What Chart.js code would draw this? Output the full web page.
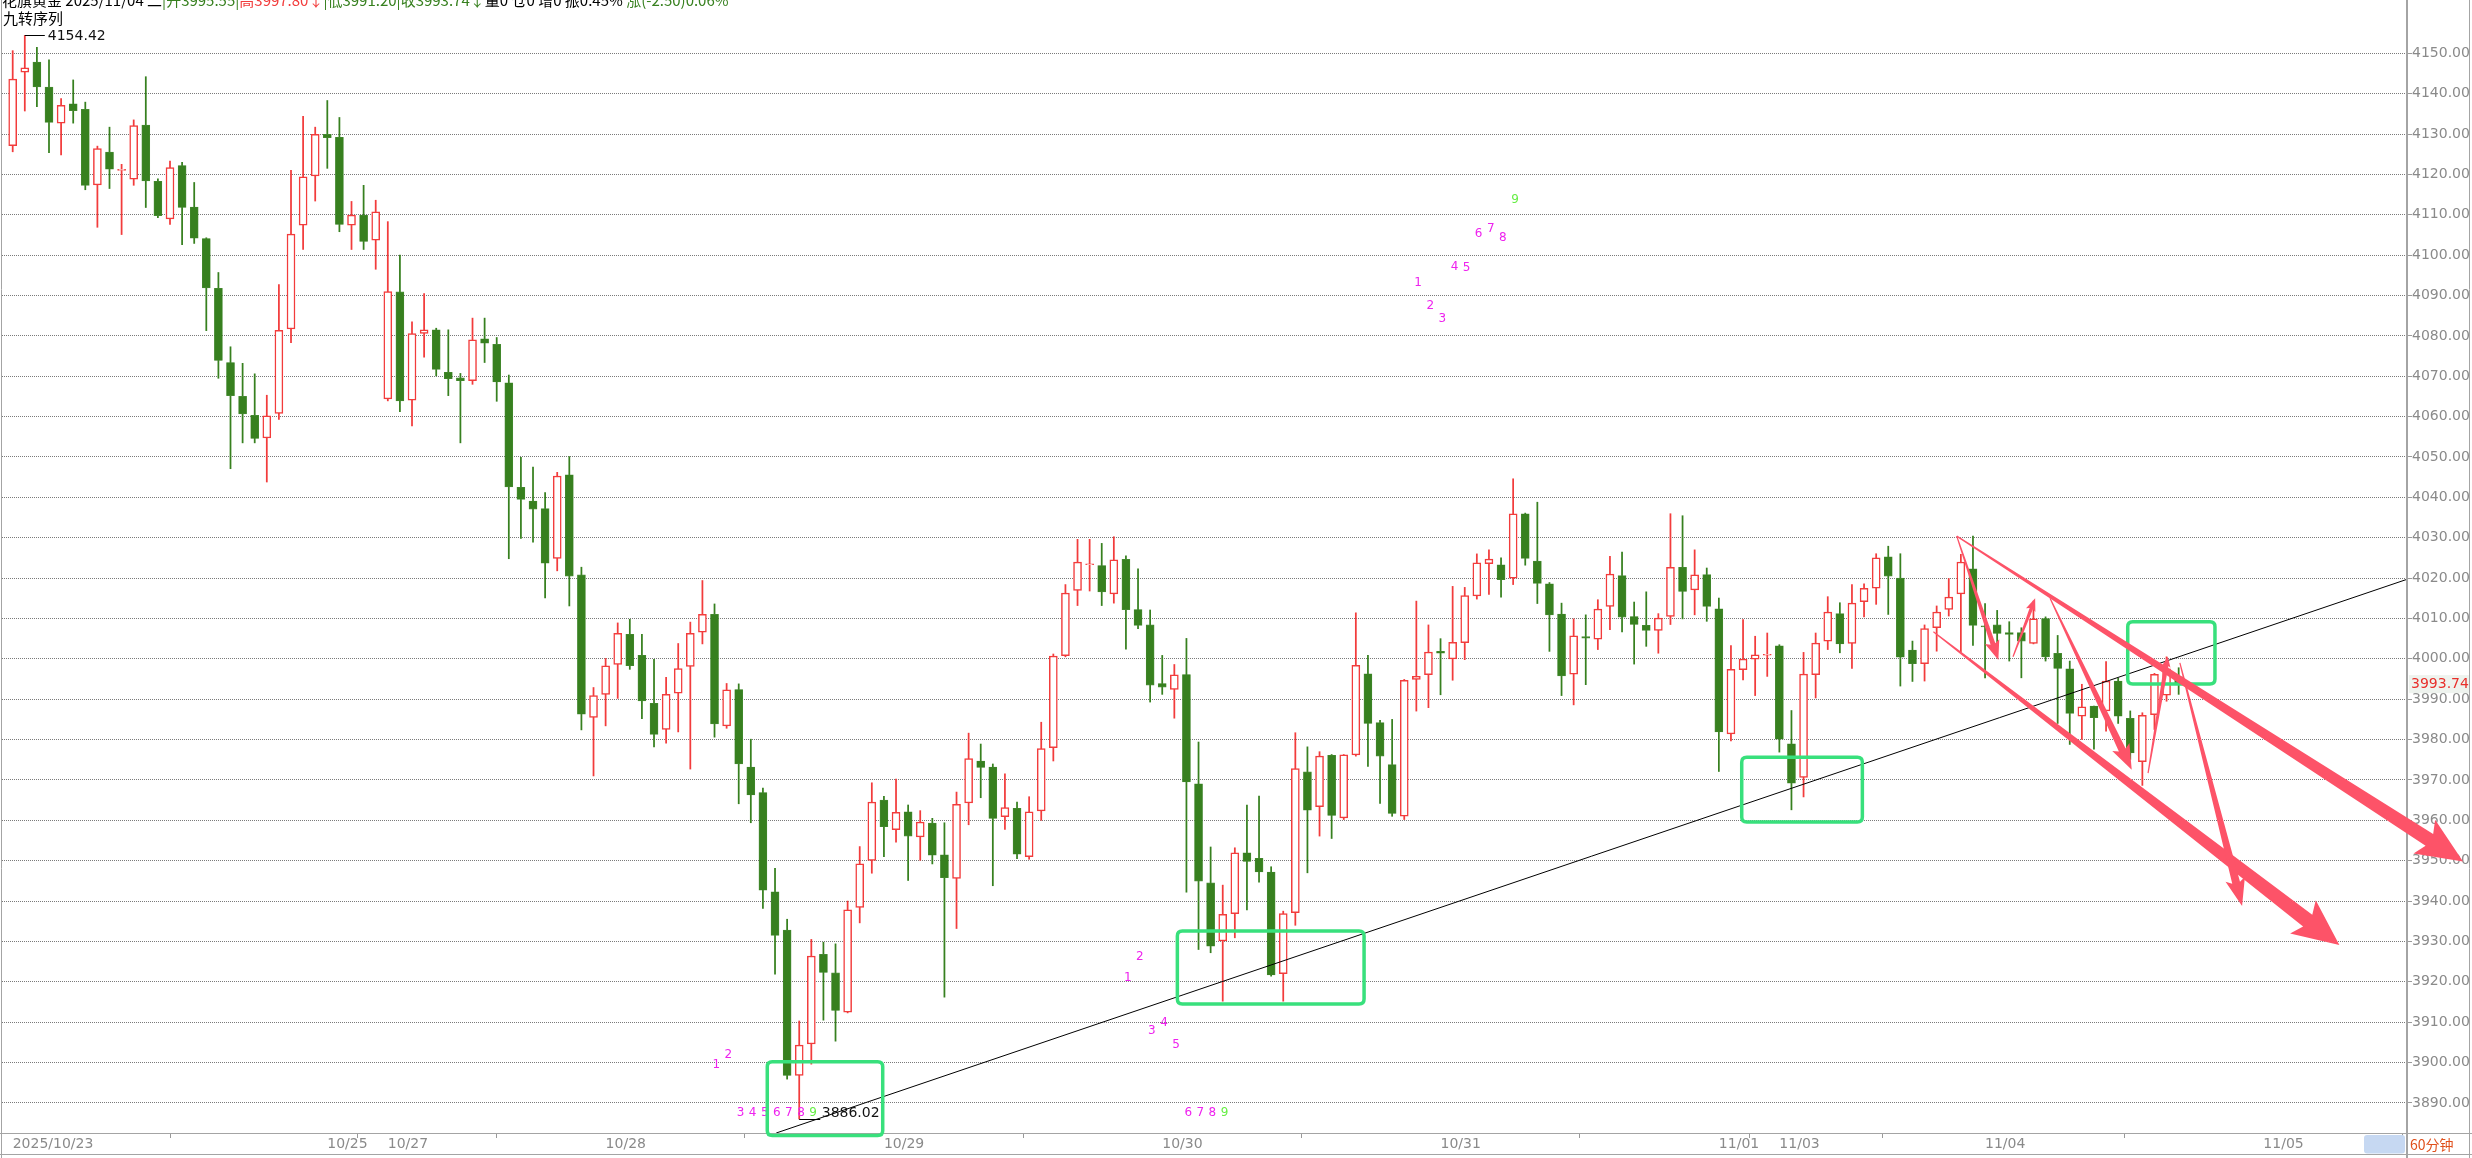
<!DOCTYPE html>
<html><head><meta charset="utf-8">
<style>html,body{margin:0;padding:0;background:#fff;overflow:hidden}canvas{display:block}</style>
<script src="https://cdn.jsdelivr.net/npm/chart.js@4/dist/chart.umd.min.js"></script>
</head><body>
<canvas id="c" width="2472" height="1158"></canvas>
<script>
const openP = [4127.1,4145.3,4147.8,4141.6,4132.7,4137.5,4136.1,4117.4,4125.5,4121.0,
4118.8,4132.2,4118.3,4109.0,4122.2,4111.9,4104.1,4091.8,4073.4,4065.0,
4060.3,4054.7,4060.8,4081.7,4107.4,4119.6,4129.9,4129.2,4107.4,4109.9,
4103.7,4064.4,4090.9,4064.1,4080.6,4081.5,4071.0,4069.6,4068.9,4079.3,
4077.9,4068.4,4042.5,4039.1,4037.2,4024.9,4045.6,4020.8,3985.5,3991.2,
3998.6,4006.1,4000.9,3989.0,3982.5,3991.5,3998.1,4006.6,4011.0,3983.4,
3992.4,3973.2,3966.9,3942.3,3932.8,3896.8,3904.6,3926.8,3922.2,3912.5,
3938.4,3950.1,3965.0,3957.7,3962.1,3955.9,3959.3,3951.45,3945.6,3964.3,
3974.7,3973.2,3960.9,3963.0,3951.0,3962.35,3978.0,4000.8,4016.95,4023.3,
4023.1,4016.1,4024.63,4012.2,4008.4,3993.9,3992.4,3996.1,3969.05,3944.5,
3930.1,3936.9,3951.97,3950.6,3947.2,3922.0,3937.1,3972.0,3963.4,3976.1,
3960.6,3976.2,3996.3,3984.2,3973.8,3961.05,3994.9,3996.1,4001.85,4000.0,
4004.0,4015.6,4023.6,4023.3,4020.0,4035.95,4024.2,4018.6,4011.1,3996.2,
4005.5,4004.9,4013.0,4020.6,4010.5,4008.3,4007.05,4010.5,4022.7,4017.1,
4020.85,4012.4,3981.4,3997.3,3999.95,4000.9,4003.25,3978.97,3970.6,3996.1,
4004.4,4011.2,4003.8,4014.15,4017.5,4025.3,4020.0,4002.2,3998.8,4007.7,
4012.25,4016.1,4022.3,4008.1,4008.4,4006.5,4006.5,4003.8,4010.0,4001.35,
3997.55,3985.8,3988.3,3987.1,3994.5,3985.25,3974.5,3986.2,3991.0,3995.55];

const highP = [4150.65,4154.42,4151.5,4148.4,4138.8,4143.4,4137.9,4127.0,4131.7,4122.5,
4133.5,4144.2,4118.9,4123.3,4123.0,4118.0,4104.3,4095.7,4077.3,4073.2,
4070.6,4065.3,4092.7,4121.0,4134.4,4131.7,4138.3,4134.1,4113.3,4117.3,
4113.6,4108.3,4100.0,4083.5,4090.5,4081.9,4081.5,4070.7,4084.4,4084.4,
4079.6,4070.3,4049.9,4047.5,4041.2,4046.2,4050.1,4022.7,3992.9,4000.1,
4008.9,4009.8,4006.1,3999.9,3995.4,4003.8,4009.1,4019.4,4013.6,3993.9,
3993.8,3980.1,3968.0,3948.1,3935.5,3910.3,3930.5,3929.8,3929.4,3940.0,
3953.5,3969.3,3965.95,3970.2,3963.8,3962.4,3960.5,3959.4,3967.0,3981.6,
3978.9,3973.96,3971.5,3964.5,3965.85,3984.3,4001.2,4018.4,4029.6,4029.6,
4028.6,4030.25,4025.5,4022.3,4012.1,4000.85,3998.6,4005.06,3979.4,3953.4,
3943.95,3953.2,3963.8,3966.0,3948.5,3937.5,3981.7,3978.2,3977.0,3976.3,
3976.3,4011.4,4000.85,3984.8,3985.0,3994.9,4014.3,4008.4,4005.0,4017.95,
4017.7,4026.0,4027.0,4025.0,4044.6,4036.1,4038.8,4018.9,4013.8,4009.9,
4010.9,4014.65,4025.4,4026.45,4014.07,4016.6,4011.2,4035.95,4035.45,4027.0,
4022.5,4015.06,4003.3,4009.7,4005.6,4006.4,4003.5,3987.2,4001.6,4006.4,
4015.4,4013.9,4018.4,4018.6,4026.04,4027.9,4026.04,4004.4,4008.4,4013.1,
4019.9,4025.9,4030.4,4013.7,4012.0,4009.2,4007.7,4014.3,4010.4,4005.8,
3999.45,3993.7,3988.3,3999.3,3995.2,3987.1,3986.65,3996.4,4000.5,3997.80];

const lowP = [4125.6,4135.7,4136.8,4125.4,4124.8,4132.7,4116.2,4106.9,4116.5,4105.1,
4117.3,4111.8,4109.3,4107.6,4102.6,4102.9,4081.3,4069.5,4047.1,4053.5,
4053.5,4043.8,4059.3,4078.3,4101.4,4113.4,4121.5,4105.8,4101.4,4101.4,
4096.5,4063.9,4061.2,4057.7,4074.7,4070.1,4065.2,4053.5,4068.0,4073.4,
4063.8,4024.8,4029.8,4028.9,4015.1,4021.8,4013.1,3982.4,3971.0,3983.4,
3990.2,3997.4,3985.2,3978.2,3979.1,3981.9,3972.7,4003.7,3980.6,3982.8,
3964.1,3959.4,3938.2,3921.9,3895.9,3886.02,3899.6,3910.5,3905.3,3912.3,
3934.6,3946.9,3951.0,3954.6,3945.1,3950.1,3949.2,3916.2,3933.2,3958.9,
3965.6,3943.8,3957.75,3950.5,3950.35,3960.0,3974.7,4000.5,4013.2,4016.8,
4013.2,4013.8,4002.4,4007.45,3989.3,3991.2,3985.3,3942.2,3928.0,3927.2,
3915.2,3930.9,3937.8,3944.7,3921.4,3915.2,3934.0,3947.0,3956.1,3955.5,
3960.2,3975.9,3973.35,3964.2,3961.0,3960.2,3987.06,3987.9,3991.1,3994.7,
3999.8,4014.8,4015.97,4015.3,4018.4,4023.2,4013.7,4001.85,3990.9,3988.6,
3993.6,4002.3,4007.2,4006.7,3998.7,4003.1,4001.4,4008.5,4009.9,4010.9,
4009.3,3972.1,3979.7,3994.8,3990.9,3995.65,3976.9,3962.6,3965.8,3990.3,
4002.3,4001.5,3997.6,4010.4,4013.5,4011.0,3993.26,3994.4,3994.5,4001.9,
4010.6,4001.7,4003.3,3995.3,4002.8,3999.45,3995.3,4003.7,3999.45,3984.0,
3978.8,3980.05,3977.6,3982.1,3984.0,3975.1,3968.65,3982.5,3989.5,3991.20];

const closeP = [4143.6,4146.4,4141.7,4132.9,4137.1,4135.8,4117.3,4126.4,4121.3,4121.1,
4132.1,4118.4,4109.8,4121.7,4111.8,4104.2,4091.9,4073.9,4065.2,4060.7,
4054.6,4060.2,4081.4,4105.2,4119.4,4129.9,4129.1,4107.6,4109.9,4103.4,
4110.7,4091.0,4063.9,4080.6,4081.5,4071.7,4069.4,4068.9,4079.0,4078.2,
4068.6,4042.6,4039.5,4037.1,4023.7,4045.3,4020.5,3986.3,3990.9,3998.3,
4006.3,3998.3,3989.6,3981.3,3991.2,3997.6,4006.3,4011.0,3983.9,3992.3,
3974.0,3966.3,3942.7,3931.5,3896.8,3904.3,3926.4,3922.3,3912.9,3937.8,
3949.2,3964.5,3958.4,3962.0,3956.1,3959.55,3951.35,3945.8,3963.96,3975.3,
3973.1,3960.45,3963.15,3951.6,3962.1,3977.8,4000.7,4016.3,4023.97,4023.5,
4016.6,4024.5,4012.2,4008.3,3993.5,3993.0,3996.06,3969.5,3944.95,3928.8,
3936.7,3951.97,3949.8,3947.2,3921.7,3936.9,3972.8,3962.5,3975.9,3961.2,
3976.2,3998.4,3984.0,3975.9,3961.7,3994.7,3995.7,4001.7,4001.4,4004.1,
4015.7,4023.8,4024.7,4019.6,4035.9,4024.9,4018.7,4010.9,3995.8,4005.7,
4005.15,4012.3,4021.0,4010.35,4008.5,4007.05,4010.1,4022.7,4016.7,4020.8,
4013.0,3981.9,3997.4,3999.95,4001.0,4001.0,3980.1,3969.2,3996.2,4003.9,
4011.6,4003.7,4013.8,4017.45,4025.05,4020.5,4000.4,3998.8,4007.5,4011.6,
4015.3,4024.0,4008.3,4007.9,4006.3,4006.06,4004.4,4009.9,4000.5,3997.6,
3986.5,3988.1,3985.4,3994.5,3985.8,3976.7,3986.0,3996.15,3997.5,3993.74];

const xTickIdx = [0,26,31,49,72,95,118,141,146,163,186];
const xTickLabels = ['2025/10/23','10/25','10/27','10/28','10/29','10/30','10/31','11/01','11/03','11/04','11/05'];
const yTicks = [3890,3900,3910,3920,3930,3940,3950,3960,3970,3980,3990,4000,4010,4020,4030,4040,4050,4060,4070,4080,4090,4100,4110,4120,4130,4140,4150];

const tdIdx = [58,59,60,61,62,63,64,65,66, 92,93,94,95,96,97,98,99,100, 116,117,118,119,120,121,122,123,124];
const tdPrice = [3899.5,3901.8,3887.6,3887.6,3887.6,3887.6,3887.6,3887.6,3887.6,
 3920.9,3926.2,3907.8,3909.8,3904.3,3887.6,3887.6,3887.6,3887.6,
 4093.2,4087.4,4084.1,4097.0,4096.9,4105.2,4106.4,4104.3,4113.7];
const tdText = ['1','2','3','4','5','6','7','8','9','1','2','3','4','5','6','7','8','9','1','2','3','4','5','6','7','8','9'];

const trendX = [63.1, 197.87];
const trendY = [3882.55, 4019.7];

// green boxes: [idxLeft, idxRight, priceTop, priceBottom]
const boxes = [[62.36,71.90,3900.2,3881.9],[96.25,111.68,3932.6,3914.5],[142.89,152.86,3975.6,3959.6],[174.79,182.0,4009.2,3993.8]];
// arrows: [idxTail, priceTail, idxTip, priceTip, shaftWidth, headWidth, headLength]
const arrows = [
 [160.66,4030.4,202.5,3949.8,14,40,40],
 [158.73,4006.7,192.28,3929.1,15,42,40],
 [160.66,4030.4,164.1,3999.7,5,15,17],
 [165.31,4000.5,167.14,4015.0,3.5,10,11],
 [168.37,4015.0,175.12,3972.5,7.5,19,22],
 [176.47,3971.7,178.1,4000.5,4.5,9,9],
 [179.1,3999.0,184.24,3938.8,8,20,24]
];
const lastPrice = 3993.74;

const RED = '#f23c3c', GREEN = '#37801f', ARROW = 'rgb(253,83,104)', BOXC = '#38e07c';
const idx = openP.map((_, i) => i);
const isUp = i => closeP[i] >= openP[i];

function arrowPath(ctx, x0, y0, x1, y1, w1, hw, hl) {
  const dx = x1 - x0, dy = y1 - y0, L = Math.hypot(dx, dy);
  const ux = dx / L, uy = dy / L, nx = -uy, ny = ux;
  const bx = x1 - ux * hl, by = y1 - uy * hl;
  const cx = x1 - ux * hl * 1.15, cy = y1 - uy * hl * 1.15;
  ctx.beginPath();
  ctx.moveTo(x0 + nx * 0.6, y0 + ny * 0.6);
  ctx.lineTo(bx + nx * w1 / 2, by + ny * w1 / 2);
  ctx.lineTo(cx + nx * hw / 2, cy + ny * hw / 2);
  ctx.lineTo(x1, y1);
  ctx.lineTo(cx - nx * hw / 2, cy - ny * hw / 2);
  ctx.lineTo(bx - nx * w1 / 2, by - ny * w1 / 2);
  ctx.lineTo(x0 - nx * 0.6, y0 - ny * 0.6);
  ctx.closePath();
  ctx.fill();
}
function roundRect(ctx, x, y, w, h, r) {
  ctx.beginPath();
  ctx.moveTo(x + r, y); ctx.lineTo(x + w - r, y); ctx.quadraticCurveTo(x + w, y, x + w, y + r);
  ctx.lineTo(x + w, y + h - r); ctx.quadraticCurveTo(x + w, y + h, x + w - r, y + h);
  ctx.lineTo(x + r, y + h); ctx.quadraticCurveTo(x, y + h, x, y + h - r);
  ctx.lineTo(x, y + r); ctx.quadraticCurveTo(x, y, x + r, y); ctx.closePath();
}

const extras = {
  id: 'extras',
  beforeDraw(chart) {
    const c = chart.ctx; c.save(); c.fillStyle = '#fff'; c.fillRect(0, 0, chart.width, chart.height); c.restore();
  },
  afterDraw(chart) {
    const c = chart.ctx, xs = chart.scales.x, ys = chart.scales.y;
    const X = v => xs.getPixelForValue(v), Y = v => ys.getPixelForValue(v);
    c.save();
    // frame lines
    c.strokeStyle = '#a4a4a4';
    c.lineWidth = 1;
    c.beginPath();
    c.moveTo(0, 1133.5); c.lineTo(2472, 1133.5);
    c.moveTo(0, 1154.5); c.lineTo(2472, 1154.5);
    c.moveTo(1.5, 0); c.lineTo(1.5, 1158);
    c.moveTo(2469.5, 0); c.lineTo(2469.5, 1158);
    c.stroke();
    c.lineWidth = 2;
    c.beginPath(); c.moveTo(2407, 0); c.lineTo(2407, 1158); c.stroke();
    // bottom right
    c.fillStyle = '#c6d8f2';
    roundRect(c, 2364, 1135, 41, 18.5, 3); c.fill();
    c.fillStyle = '#e0501c';
    c.font = '14px "Noto Sans CJK SC"';
    c.textBaseline = 'middle'; c.textAlign = 'left';
    c.fillText('60分钟', 2410, 1144.5);
    // last price label
    const yl = Y(lastPrice);
    c.fillStyle = '#eef3ee';
    c.fillRect(2409, yl - 9, 60, 18);
    c.fillStyle = '#e8302c';
    c.font = '14px "DejaVu Sans"';
    c.fillText(lastPrice.toFixed(2), 2411, yl + 0.5);
    // header
    c.font = '15px "Noto Sans CJK SC"';
    c.textBaseline = 'alphabetic';
    const segs = [['花旗黄金 2025/11/04 二', '#000'], ['|开3995.55|', GREEN], ['高3997.80↓', RED], ['|低3991.20|', GREEN], ['收3993.74↓', GREEN], ['量0 仓0 增0 振0.45% ', '#000'], ['涨(-2.50)0.06%', GREEN]];
    let hx = 2;
    segs.forEach(([t, col]) => { c.fillStyle = col; c.fillText(t, hx, 6); hx += c.measureText(t).width; });
    c.fillStyle = '#000';
    c.fillText('九转序列', 3, 24);
    // hi / lo labels
    const hi = Math.max(...highP), hiI = highP.indexOf(hi);
    const lo = Math.min(...lowP), loI = lowP.indexOf(lo);
    c.strokeStyle = '#000'; c.lineWidth = 1;
    c.beginPath(); c.moveTo(X(hiI), Math.round(Y(hi)) + 0.5); c.lineTo(X(hiI) + 20, Math.round(Y(hi)) + 0.5); c.stroke();
    c.beginPath(); c.moveTo(X(loI), Math.round(Y(lo)) + 0.5); c.lineTo(X(loI) + 21, Math.round(Y(lo)) + 0.5); c.stroke();
    c.fillStyle = '#111'; c.font = '14px "DejaVu Sans"';
    c.textBaseline = 'middle'; c.fillText(hi.toFixed(2), X(hiI) + 23, Y(hi) + 0.5);
    c.textBaseline = 'alphabetic'; c.fillText(lo.toFixed(2), X(loI) + 22.5, Y(lo) - 1.5);
    // TD numbers
    c.font = '12px "DejaVu Sans"'; c.textAlign = 'center'; c.textBaseline = 'middle';
    tdIdx.forEach((ix, k) => {
      c.fillStyle = tdText[k] === '9' ? '#66ee44' : '#ee22ee';
      c.fillText(tdText[k], X(ix) + 1.8, Y(tdPrice[k]));
    });
    // boxes
    c.strokeStyle = BOXC; c.lineWidth = 3.5;
    boxes.forEach(([a, b, p, q]) => { const x0 = X(a), x1 = X(b), y0 = Y(p), y1 = Y(q); roundRect(c, x0, y0, x1 - x0, y1 - y0, 5); c.stroke(); });
    // arrows
    c.fillStyle = ARROW;
    arrows.forEach(([a, p, b, q, w1, hw, hl]) => arrowPath(c, X(a), Y(p), X(b), Y(q), w1, hw, hl));
    c.restore();
  }
};

const zeroPad = s => { s.paddingTop = 0; s.paddingBottom = 0; s.paddingLeft = 0; s.paddingRight = 0; };

new Chart(document.getElementById('c'), {
  data: {
    datasets: [
      { type: 'line', label: 'trend', order: 0, data: trendX.map((x, k) => ({ x, y: trendY[k] })),
        borderColor: '#000', borderWidth: 1, pointRadius: 0, fill: false, tension: 0 },
      { type: 'bar', label: 'body', order: 1, grouped: false, barThickness: 8, minBarLength: 1, borderSkipped: false,
        data: idx.map(i => ({ x: i, y: [openP[i], closeP[i]] })),
        backgroundColor: ctx => isUp(ctx.dataIndex) ? '#ffffff' : GREEN,
        borderColor: ctx => isUp(ctx.dataIndex) ? RED : '#4a8c36',
        borderWidth: ctx => isUp(ctx.dataIndex) ? 1.5 : 0.6 },
      { type: 'bar', label: 'wick', order: 2, grouped: false, barThickness: 1.1, borderWidth: 0,
        data: idx.map(i => ({ x: i, y: [lowP[i], highP[i]] })),
        backgroundColor: ctx => isUp(ctx.dataIndex) ? RED : GREEN }
    ]
  },
  options: {
    responsive: false, animation: false, events: [],
    layout: { padding: { left: 2, top: 0, right: 0, bottom: 0 } },
    plugins: { legend: { display: false }, tooltip: { enabled: false } },
    scales: {
      x: { type: 'linear', min: -0.884, max: 197.87, offset: false,
        afterBuildTicks: s => { s.ticks = xTickIdx.map(v => ({ value: v })); },
        afterFit: s => { s.height = 25; zeroPad(s); },
        ticks: { autoSkip: false, maxRotation: 0, minRotation: 0, align: 'start', padding: -2, color: '#8a8a8a',
          font: { family: 'DejaVu Sans', size: 14 }, callback: (v, i) => xTickLabels[i] },
        grid: { drawOnChartArea: false, drawTicks: true, tickLength: 5, tickColor: '#999', color: '#999' },
        border: { display: false }
      },
      y: { type: 'linear', position: 'right', min: 3882.55, max: 4163.2,
        afterBuildTicks: s => { s.ticks = yTicks.map(v => ({ value: v })); },
        afterFit: s => { s.width = 65; zeroPad(s); },
        ticks: { padding: 0, color: '#8a8a8a', font: { family: 'DejaVu Sans', size: 14 }, callback: v => Number(v).toFixed(2) },
        grid: { color: '#7a7a7a', lineWidth: 1, tickLength: 5, tickColor: '#9a9a9a' },
        border: { display: false, dash: [1, 1] }
      }
    }
  },
  plugins: [extras]
});
</script>
</body></html>
